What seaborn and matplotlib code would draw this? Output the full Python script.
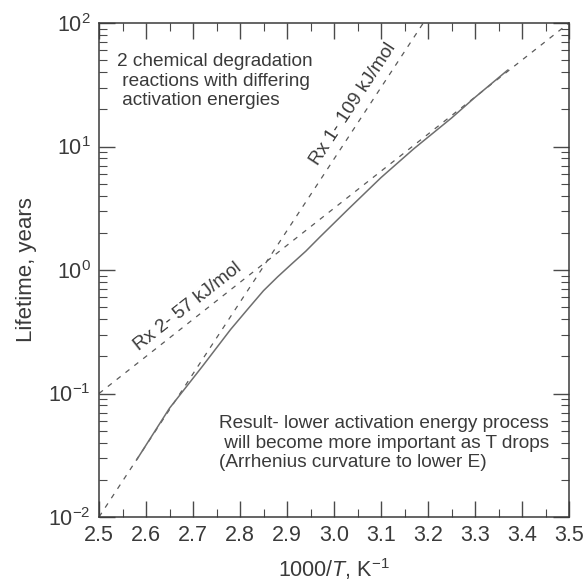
import numpy as np
import pandas as pd
import matplotlib
matplotlib.use("Agg")
import matplotlib.pyplot as plt
import seaborn as sns
from matplotlib.ticker import MultipleLocator, LogLocator, NullFormatter, FuncFormatter

# Reaction 1 (109 kJ/mol): straight Arrhenius line, end points
inv_temp_rx1 = [2.50, 3.19]
life_rx1 = [0.01, 100.0]

# Reaction 2 (57 kJ/mol): straight Arrhenius line, end points
inv_temp_rx2 = [2.50, 3.50]
life_rx2 = [0.1, 100.0]

# Combined lifetime of both processes
inv_temp_total = [2.58, 2.65, 2.72, 2.78, 2.82, 2.85, 2.88, 2.91, 2.94, 2.97,
                  3.03, 3.10, 3.17, 3.25, 3.30, 3.37]
life_total = [0.029, 0.076, 0.166, 0.33, 0.50, 0.68, 0.88, 1.12, 1.42, 1.85,
              3.1, 5.6, 9.6, 17.0, 25.0, 41.7]

x_ticks = [2.5, 2.6, 2.7, 2.8, 2.9, 3.0, 3.1, 3.2, 3.3, 3.4, 3.5]
y_ticks = [0.01, 0.1, 1, 10, 100]

sns.set_theme(style="ticks")
plt.rcParams["font.family"] = ["Liberation Sans", "DejaVu Sans"]
plt.rcParams["mathtext.fontset"] = "custom"
plt.rcParams["mathtext.rm"] = "Liberation Sans"
plt.rcParams["mathtext.it"] = "Liberation Sans:italic"
plt.rcParams["axes.unicode_minus"] = False

ink = "#3a3a3a"
tick_ink = "#4a4a4a"
line_dash = "#5a5a5a"
line_solid = "#6e6e6e"

fig = plt.figure(figsize=(5.85, 5.87), dpi=100)
ax = fig.add_axes([99 / 585, 1 - 517 / 587, 470 / 585, 494 / 587])

df1 = pd.DataFrame({"x": inv_temp_rx1, "y": life_rx1})
df2 = pd.DataFrame({"x": inv_temp_rx2, "y": life_rx2})
dft = pd.DataFrame({"x": inv_temp_total, "y": life_total})

sns.lineplot(data=df1, x="x", y="y", ax=ax, color=line_dash, lw=0.9,
             linestyle=(0, (4, 5)), estimator=None, sort=False)
sns.lineplot(data=df2, x="x", y="y", ax=ax, color=line_dash, lw=0.9,
             linestyle=(0, (4, 5)), estimator=None, sort=False)
sns.lineplot(data=dft, x="x", y="y", ax=ax, color=line_solid, lw=1.1,
             estimator=None, sort=False)

ax.set_yscale("log")
ax.set_xlim(x_ticks[0], x_ticks[-1])
ax.set_ylim(y_ticks[0], y_ticks[-1])
ax.set_xticks(x_ticks)
ax.set_xticklabels([f"{v:.1f}" for v in x_ticks])
ax.xaxis.set_minor_locator(MultipleLocator(0.05))
ax.set_yticks(y_ticks)
ax.yaxis.set_major_formatter(
    FuncFormatter(lambda v, _: f"$\\mathdefault{{10^{{{int(round(np.log10(v)))}}}}}$"))
ax.yaxis.set_minor_locator(LogLocator(base=10, subs=np.arange(2, 10)))
ax.yaxis.set_minor_formatter(NullFormatter())

for side in ax.spines.values():
    side.set_color(ink)
    side.set_linewidth(1.1)

ax.tick_params(which="both", direction="in", top=True, right=True,
               color=tick_ink)
ax.tick_params(which="major", length=11.5, width=1.0, labelsize=15.5, pad=6,
               labelcolor=ink)
ax.tick_params(which="minor", length=5.5, width=0.8)

ax.set_xlabel("1000/$T$, K$^{-1}$", fontsize=15.5, color=ink, labelpad=7)
ax.set_ylabel("Lifetime, years", fontsize=16, color=ink, labelpad=8)


def screen_angle(xs, ys):
    p = ax.transData.transform(np.column_stack([xs, ys]))
    return np.degrees(np.arctan2(p[1, 1] - p[0, 1], p[1, 0] - p[0, 0]))


ax.text(3.040, 22.1, "Rx 1- 109 kJ/mol", fontsize=13.7, color=ink,
        rotation=screen_angle(inv_temp_rx1, life_rx1),
        rotation_mode="anchor", ha="center", va="center")
ax.text(2.689, 0.50, "Rx 2- 57 kJ/mol", fontsize=13.7, color=ink,
        rotation=screen_angle(inv_temp_rx2, life_rx2),
        rotation_mode="anchor", ha="center", va="center")

ax.text(0.038, 0.939,
        "2 chemical degradation\n reactions with differing\n activation energies",
        transform=ax.transAxes, fontsize=13.7, color=ink, ha="left", va="top",
        linespacing=1.2)
ax.text(0.255, 0.2065,
        "Result- lower activation energy process\n will become more important as T drops\n"
        "(Arrhenius curvature to lower E)",
        transform=ax.transAxes, fontsize=13.7, color=ink, ha="left", va="top",
        linespacing=1.2)

fig.savefig("out.png", dpi=100)
